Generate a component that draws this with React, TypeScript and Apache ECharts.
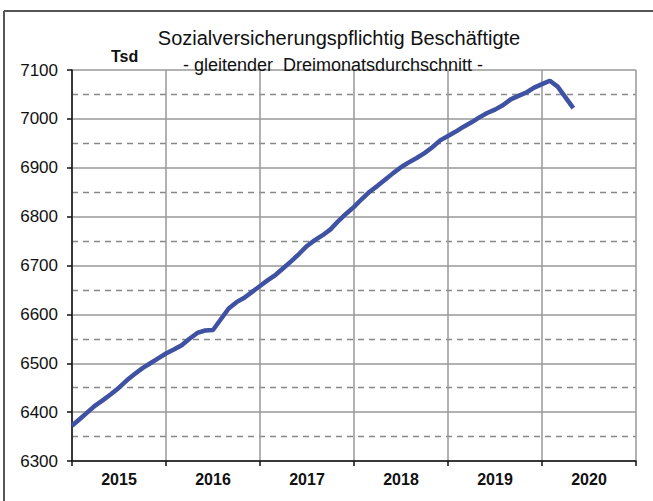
import React, { useEffect, useRef } from "react";
import * as echarts from "echarts";

const years = ["2015", "2016", "2017", "2018", "2019", "2020"];
// Monthly values (thousands), Jan 2015 .. May 2020, three-month moving average
const employees = [
  6372, 6386, 6400, 6414, 6425, 6437, 6450, 6465, 6478, 6490, 6500, 6510,
  6520, 6528, 6537, 6550, 6562, 6567, 6568, 6590, 6612, 6625, 6634, 6646,
  6658, 6670, 6681, 6695, 6709, 6724, 6740, 6752, 6762, 6774, 6791, 6806,
  6820, 6836, 6851, 6863, 6876, 6889, 6901, 6911, 6920, 6930, 6942, 6956,
  6965, 6974, 6984, 6993, 7003, 7012, 7019, 7028, 7040, 7047, 7054, 7064,
  7071, 7078, 7066, 7044, 7022,
];
const titleText = "Sozialversicherungspflichtig Beschäftigte";
const subtitleText = "- gleitender  Dreimonatsdurchschnitt -";
const unitText = "Tsd";

export default function App() {
  const ref = useRef<HTMLDivElement>(null);
  useEffect(() => {
    if (!ref.current) return;
    const chart = echarts.init(ref.current, undefined, { renderer: "svg" });
    const font = "'Liberation Sans', Arial, sans-serif";
    chart.setOption({
      animation: false,
      backgroundColor: "#ffffff",
      title: [
        {
          text: titleText,
          left: 334,
          top: 23,
          textAlign: "center",
          textStyle: { fontFamily: font, fontSize: 20, fontWeight: "normal", color: "#111" },
        },
        {
          text: subtitleText,
          left: 328,
          top: 51,
          textAlign: "center",
          textStyle: { fontFamily: font, fontSize: 18, fontWeight: "normal", color: "#111" },
        },
        {
          text: unitText,
          left: 106,
          top: 43,
          textStyle: { fontFamily: font, fontSize: 16, fontWeight: "bold", color: "#111" },
        },
      ],
      graphic: [
        { type: "line", shape: { x1: 4, y1: 11, x2: 653, y2: 11 }, style: { stroke: "#555", lineWidth: 2 } },
        { type: "line", shape: { x1: 4, y1: 11, x2: 4, y2: 501 }, style: { stroke: "#555", lineWidth: 2 } },
      ],
      grid: { left: 72, top: 70, right: 17, bottom: 40, containLabel: false },
      xAxis: [
        {
          type: "value",
          min: 0,
          max: 72,
          interval: 12,
          axisLine: { show: false },
          axisTick: { show: false },
          axisLabel: { show: false },
          splitLine: { show: true, lineStyle: { color: "#999", width: 1.5 } },
        },
        {
          type: "category",
          data: years,
          position: "bottom",
          boundaryGap: true,
          axisLine: { show: true, lineStyle: { color: "#111", width: 1.5 } },
          axisTick: { show: true, alignWithLabel: false, length: 5, lineStyle: { color: "#111", width: 1.5 } },
          axisLabel: {
            fontFamily: font,
            fontSize: 16,
            fontWeight: "bold",
            color: "#111",
            margin: 10,
          },
          splitLine: { show: false },
        },
      ],
      yAxis: {
        type: "value",
        min: 6300,
        max: 7100,
        interval: 100,
        axisLine: { show: true, lineStyle: { color: "#111", width: 1.5 } },
        axisTick: { show: true, length: 5, lineStyle: { color: "#111", width: 1.5 } },
        axisLabel: {
          fontFamily: font,
          fontSize: 17,
          color: "#111",
          margin: 14,
          formatter: (v: number) => String(v),
        },
        splitLine: { show: true, lineStyle: { color: "#999", width: 1.5 } },
        minorTick: { show: false, splitNumber: 2 },
        minorSplitLine: { show: true, lineStyle: { color: "#888", width: 1.3, type: [6, 5] } },
      },
      series: [
        {
          type: "line",
          xAxisIndex: 0,
          data: employees.map((v, i) => [i, v]),
          showSymbol: false,
          lineStyle: { color: "#3f51a3", width: 4.5 },
          clip: false,
        },
      ],
    });
    return () => chart.dispose();
  }, []);
  return <div ref={ref} style={{ width: 653, height: 501, position: "absolute", left: 0, top: 0 }} />;
}
